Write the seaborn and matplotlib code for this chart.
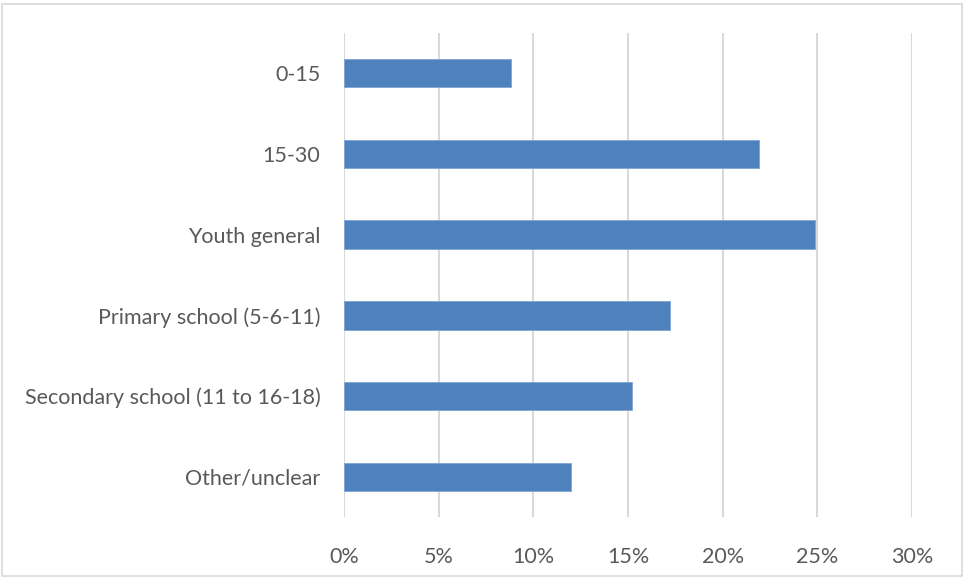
import matplotlib
matplotlib.use("Agg")
import matplotlib.pyplot as plt
from matplotlib.patches import Rectangle
from matplotlib.ticker import PercentFormatter
import seaborn as sns
import pandas as pd

categories = ["0-15", "15-30", "Youth general", "Primary school (5-6-11)",
              "Secondary school (11 to 16-18)", "Other/unclear"]
shares = [0.088, 0.219, 0.249, 0.172, 0.152, 0.120]
x_ticks = [0.0, 0.05, 0.10, 0.15, 0.20, 0.25, 0.30]

df = pd.DataFrame({"category": categories, "share": shares})

sns.set_theme(style="white")
plt.rcParams["font.family"] = ["Lato", "DejaVu Sans"]

text_color = "#595959"
grid_color = "#D9D9D9"
bar_color = "#4F81BD"

fig = plt.figure(figsize=(9.63, 5.77), dpi=100)
ax = fig.add_axes([344 / 963, 1 - 517.4 / 577, (912 - 344) / 963, (517.4 - 32.6) / 577])

sns.barplot(data=df, x="share", y="category", order=categories, color=bar_color,
            width=0.35, saturation=1, ax=ax, zorder=3)
for p in ax.patches:
    p.set_edgecolor("#7FA4D4")
    p.set_linewidth(0.6)

ax.set_xlim(0, 0.30)
ax.set_ylim(len(categories) - 0.5, -0.5)
ax.set_xticks(x_ticks)
ax.xaxis.set_major_formatter(PercentFormatter(1.0, decimals=0))
ax.grid(axis="x", color=grid_color, linewidth=1.5, zorder=0)
ax.grid(axis="y", visible=False)
for s in ax.spines.values():
    s.set_visible(False)
ax.set_xlabel("")
ax.set_ylabel("")
ax.tick_params(axis="both", length=0, labelsize=15.5, labelcolor=text_color)
ax.tick_params(axis="y", pad=17)
ax.tick_params(axis="x", pad=21)

fig.patches.append(Rectangle((2 / 963, 1 / 577), 960 / 963, 572 / 577,
                             transform=fig.transFigure, fill=False,
                             edgecolor=grid_color, linewidth=1.2))

fig.savefig("out.png", dpi=100)
